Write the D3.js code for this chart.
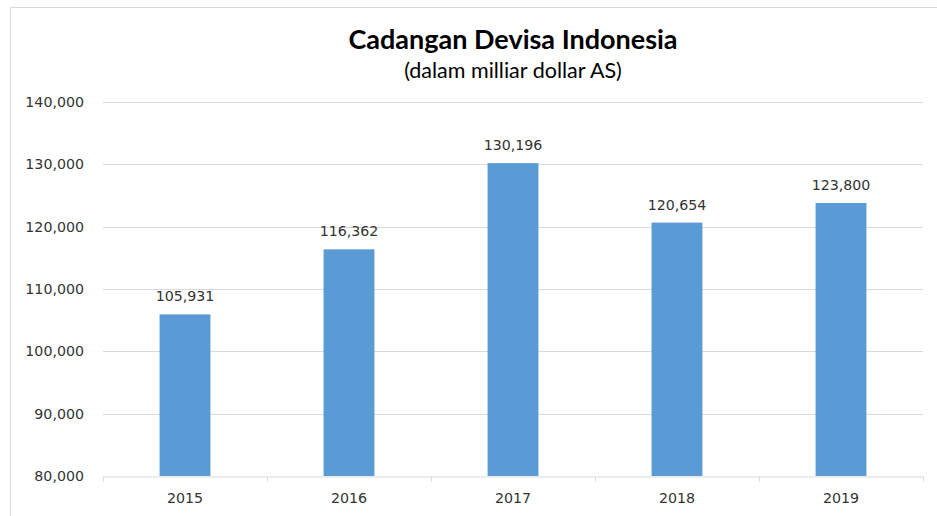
<!DOCTYPE html>
<html><head><meta charset="utf-8">
<script src="https://cdn.jsdelivr.net/npm/d3@7"></script>
<style>body{margin:0;background:#fff}svg{display:block}</style>
</head><body>
<svg id="c" width="937" height="516"></svg>
<script>
const categories = ["2015","2016","2017","2018","2019"];
const values = [105931,116362,130196,120654,123800];
const yTicks = [80000,90000,100000,110000,120000,130000,140000];
const title = "Cadangan Devisa Indonesia";
const subtitle = "(dalam milliar dollar AS)";

const svg = d3.select("#c");
const W=937,H=516;
const m = {left:103, right:14, top:102, bottom:40};
const lblFont = "DejaVu Sans, sans-serif", lblSize = 14.2, lblColor = "#333";
svg.append("rect").attr("x",10.5).attr("y",7.5).attr("width",W).attr("height",H)
  .attr("fill","#fff").attr("stroke","#d9d9d9");

const x = d3.scaleBand().domain(categories).range([m.left, W-m.right]).paddingInner(0.69).paddingOuter(0.345);
const y = d3.scaleLinear().domain([80000,140000]).range([476,102]);
const fmt = d3.format(",");

const grid = svg.append("g");
grid.selectAll("line").data(yTicks.slice(1)).join("line")
  .attr("x1",m.left).attr("x2",W-m.right)
  .attr("y1",d=>Math.round(y(d))+0.5).attr("y2",d=>Math.round(y(d))+0.5)
  .attr("stroke","#d9d9d9");

const yAxis = d3.axisLeft(y).tickValues(yTicks).tickFormat(fmt).tickSize(0).tickPadding(19);
const ya = svg.append("g").attr("transform",`translate(${m.left},0)`).call(yAxis);
ya.select(".domain").remove();
ya.selectAll("text").attr("font-family",lblFont).attr("font-size",lblSize).attr("fill",lblColor);

svg.append("g").selectAll("rect").data(values).join("rect")
  .attr("x",(d,i)=>x(categories[i])).attr("width",x.bandwidth())
  .attr("y",d=>y(d)).attr("height",d=>y(80000)-y(d))
  .attr("fill","#5b9bd5");

const xAxis = d3.axisBottom(x).tickSize(0).tickPadding(16);
const xa = svg.append("g").attr("transform",`translate(0,${Math.round(y(80000))+0.5})`).call(xAxis);
xa.select(".domain").attr("stroke","#d9d9d9");
xa.selectAll("text").attr("font-family",lblFont).attr("font-size",lblSize).attr("fill",lblColor);
const step = x.step();
const bounds = d3.range(categories.length+1).map(i=>m.left + i*step);
xa.selectAll(".bt").data(bounds).join("line").attr("class","bt")
  .attr("x1",d=>Math.round(d)+0.5).attr("x2",d=>Math.round(d)+0.5).attr("y1",0).attr("y2",5).attr("stroke","#d9d9d9");

svg.append("g").selectAll("text").data(values).join("text")
  .attr("x",(d,i)=>x(categories[i])+x.bandwidth()/2).attr("y",d=>y(d)-13)
  .attr("text-anchor","middle").attr("font-family",lblFont).attr("font-size",lblSize)
  .attr("fill",lblColor).text(d=>fmt(d));

svg.append("text").attr("x",513).attr("y",49).attr("text-anchor","middle")
  .attr("font-family","Lato, sans-serif").attr("font-weight","bold").attr("font-size",27).attr("fill","#000")
  .text(title);
svg.append("text").attr("x",513).attr("y",78).attr("text-anchor","middle")
  .attr("font-family","Lato, sans-serif").attr("font-size",21.5).attr("fill","#000")
  .text(subtitle);
</script>
</body></html>
